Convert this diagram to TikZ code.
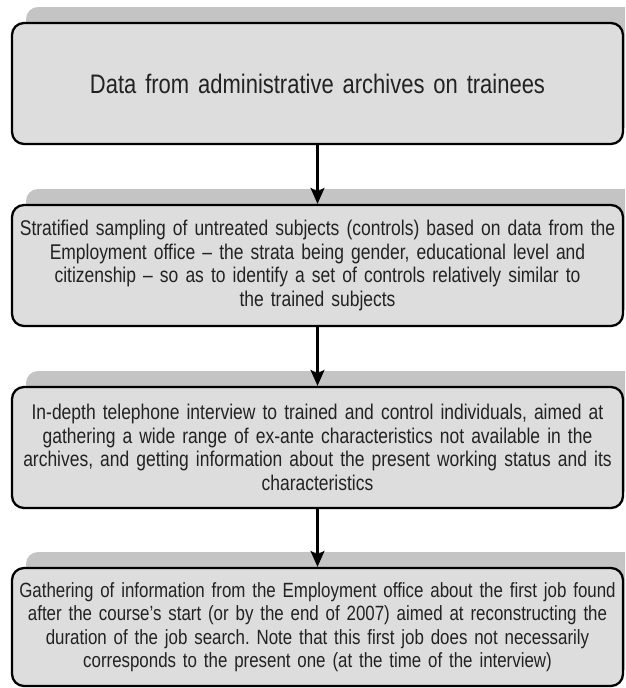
\documentclass[tikz,border=0pt]{standalone}
\usepackage{fontspec}
\setmainfont{Liberation Sans}[FakeStretch=0.82]
\usetikzlibrary{arrows.meta,shadows}
\frenchspacing
\definecolor{boxfill}{RGB}{221,221,221}
\definecolor{shadefill}{RGB}{196,196,196}
\definecolor{inktext}{RGB}{34,34,34}
\tikzset{
  stagebox/.style={draw=black, line width=2.3pt, fill=boxfill, rounded corners=12pt,
    minimum width=611pt, align=center, text width=600pt, inner sep=0pt,
    text=inktext, font=\fontsize{21.3}{23.5}\selectfont,
    general shadow={fill=shadefill, shadow xshift=14pt, shadow yshift=16pt}},
  flowarrow/.style={draw=black, line width=2.3pt, -{Stealth[length=16pt,width=14pt,inset=3.5pt]}}
}
% a centred line that may run slightly past the text width without wrapping
\newcommand{\wideline}[1]{\makebox[600pt][c]{#1}}
\begin{document}
\begin{tikzpicture}[x=1pt,y=1pt]
  \useasboundingbox (0,0) rectangle (625,-688);
  \begin{scope}
    \clip (0,0) rectangle (625,-688);
    \node[stagebox, minimum height=121pt, font=\fontsize{26.8}{30}\selectfont] (archives) at (317.5,-83.5)
      {Data from administrative archives on trainees};
    \node[stagebox, minimum height=121pt] (sampling) at (317.5,-265.5)
      {\wideline{Stratified sampling of untreated subjects (controls) based on data from the}\\
       Employment office -- the strata being gender, educational level and\\
       citizenship -- so as to identify a set of controls relatively similar to\\
       the trained subjects};
    \node[stagebox, minimum height=121pt] (interview) at (317.5,-447.5)
      {\wideline{In-depth telephone interview to trained and control individuals, aimed at}\\
       gathering a wide range of ex-ante characteristics not available in the\\
       \wideline{archives, and getting information about the present working status and its}\\
       characteristics};
    \node[stagebox, minimum height=118pt, font=\fontsize{20.6}{23.5}\selectfont] (firstjob) at (317.5,-627)
      {\wideline{Gathering of information from the Employment office about the first job found}\\
       \wideline{after the course’s start (or by the end of 2007) aimed at reconstructing the}\\
       duration of the job search. Note that this first job does not necessarily\\
       corresponds to the present one (at the time of the interview)};
  \end{scope}
  \draw[flowarrow] (archives.south) -- (sampling.north);
  \draw[flowarrow] (sampling.south) -- (interview.north);
  \draw[flowarrow] (interview.south) -- (firstjob.north);
\end{tikzpicture}
\end{document}
